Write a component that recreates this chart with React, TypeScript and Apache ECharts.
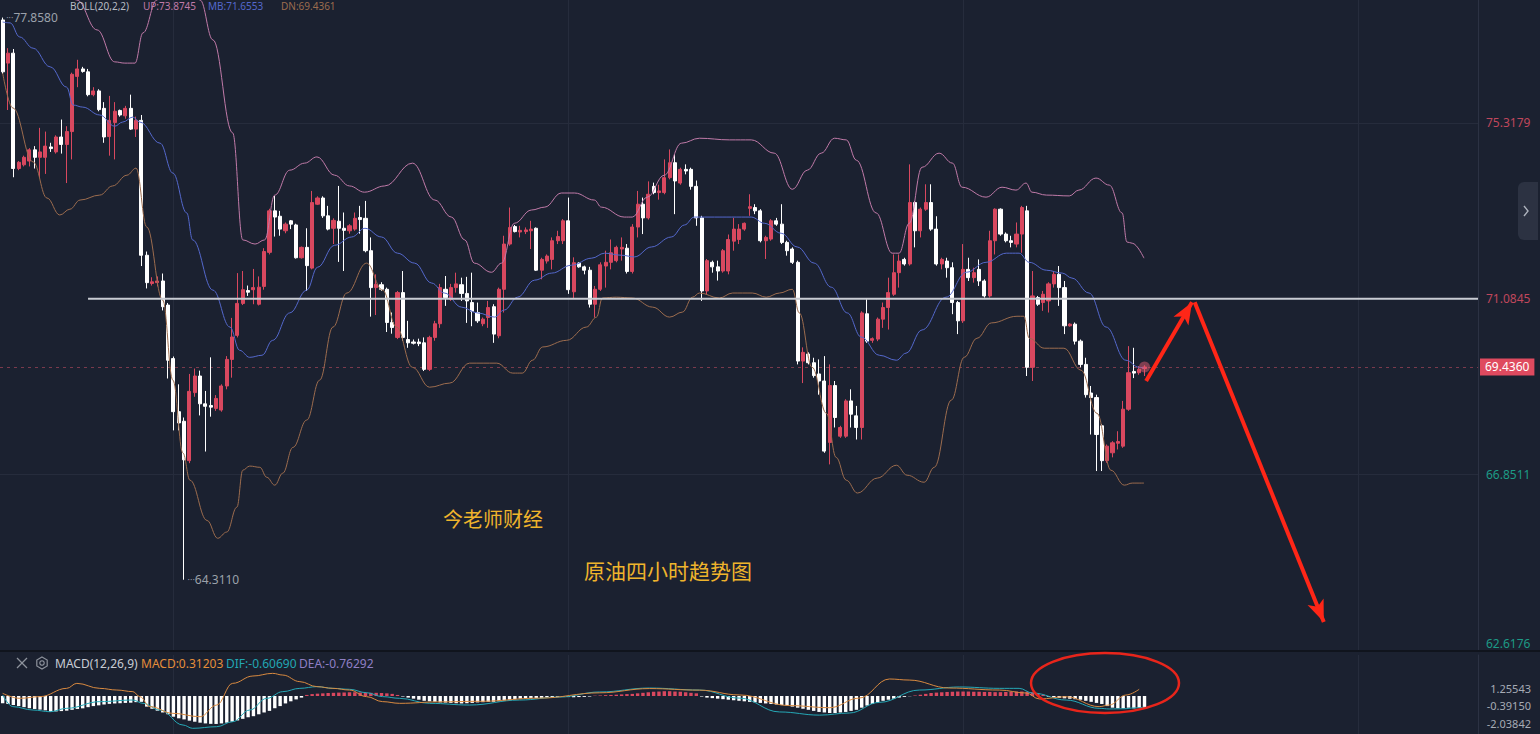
import React, { useEffect, useRef } from "react";
import * as echarts from "echarts";

// ---------- data ----------
const SLOTS = 277;
const opens = [77.80,76.76,77.00,74.22,74.31,74.40,74.67,74.49,74.49,74.74,74.62,74.98,74.80,75.11,76.44,76.62,76.55,76.00,76.09,75.67,74.99,75.33,75.62,75.49,75.67,75.17,75.38,72.13,71.45,71.47,71.51,70.93,69.64,68.36,68.13,67.18,68.82,69.22,68.55,68.51,68.44,68.40,68.98,69.62,70.20,70.97,71.28,71.30,70.95,71.38,72.20,73.20,73.07,72.72,72.96,72.86,72.07,72.32,71.82,73.36,73.51,73.08,72.78,72.95,72.78,72.72,72.76,73.04,73.02,72.24,71.35,71.42,71.31,70.51,70.15,71.23,70.10,70.04,70.04,70.02,69.38,70.15,70.48,71.31,71.07,71.35,71.42,71.21,70.99,70.75,70.48,70.63,70.89,70.19,71.31,72.40,72.82,72.69,72.70,72.72,72.78,71.77,71.99,72.03,72.48,72.48,72.96,71.25,71.94,71.85,71.77,70.95,71.31,71.87,71.96,72.00,72.28,72.30,71.74,72.81,73.36,73.03,73.79,73.64,73.64,74.00,74.36,73.87,74.20,74.20,73.79,73.03,71.27,71.96,71.85,71.75,71.75,72.47,72.51,72.76,73.26,73.28,73.20,72.48,72.52,72.96,72.88,72.44,72.28,71.96,69.58,69.75,69.54,69.27,69.10,67.62,68.99,67.77,67.77,68.62,68.26,67.98,70.72,70.08,70.11,70.59,70.87,71.19,71.71,72.03,71.92,73.40,72.72,73.24,73.40,72.76,71.92,71.99,71.83,70.99,70.55,71.79,71.59,71.79,71.51,71.15,72.48,73.24,72.64,72.48,72.40,72.64,73.20,69.43,71.11,70.99,71.03,71.44,71.67,71.35,70.43,70.47,70.06,69.50,68.81,68.70,68.02,67.18,67.37,67.60,67.53,68.42,69.33,69.30,69.40];
const closes = [76.55,77.00,74.22,74.37,74.49,74.67,74.49,74.62,74.76,74.70,74.98,74.80,75.11,76.49,76.62,76.56,76.00,76.09,75.64,74.98,75.38,75.60,75.51,75.67,75.17,75.38,72.13,71.47,71.49,71.51,70.89,69.60,68.36,68.09,67.20,68.85,69.22,68.55,68.49,68.47,68.68,68.98,69.62,70.16,70.97,71.30,71.24,71.35,71.36,72.22,73.20,73.05,72.76,72.88,72.88,72.07,72.32,71.88,73.40,73.51,73.08,72.76,72.97,72.78,72.73,72.84,73.02,72.99,72.24,71.35,71.43,71.31,70.51,70.39,71.23,70.15,70.02,70.01,70.00,69.38,70.15,70.48,71.35,71.11,71.35,71.44,71.21,71.03,70.78,70.55,70.59,70.87,70.23,71.31,72.40,72.80,72.70,72.73,72.74,72.76,71.77,72.03,72.11,72.48,72.58,72.96,71.30,71.95,71.85,71.77,70.95,71.31,71.90,71.96,72.19,72.32,72.32,71.74,72.81,73.36,73.03,73.60,73.64,73.68,74.00,74.36,73.92,74.20,74.16,73.79,73.03,71.27,72.00,71.85,71.75,72.24,72.51,72.76,72.76,72.90,73.30,73.20,72.48,72.56,72.96,72.88,72.44,72.24,71.96,69.58,69.79,69.54,69.23,69.10,67.41,68.99,68.22,67.98,68.62,68.30,67.98,70.74,70.06,70.12,70.59,70.87,71.23,71.71,71.99,71.92,73.40,72.72,73.24,73.40,72.76,71.92,72.03,71.83,70.99,70.55,71.79,71.59,71.71,71.51,71.15,72.48,73.24,72.64,72.48,72.44,72.64,73.28,69.43,71.15,70.95,71.19,71.44,71.67,71.35,70.43,70.47,70.06,69.50,68.77,68.70,67.81,67.18,67.53,67.61,67.64,68.42,69.30,69.29,69.38,69.436];
const lows = [76.50,75.63,74.01,74.18,74.27,74.27,74.22,74.00,74.09,74.62,74.58,74.58,73.87,74.44,76.18,76.53,75.96,75.96,75.60,74.84,74.53,74.44,75.47,75.42,75.15,74.98,71.87,71.33,71.40,71.38,70.80,69.16,67.91,67.91,64.311,67.12,68.72,68.27,67.40,68.24,68.38,68.36,68.90,69.18,70.15,70.93,71.15,70.95,70.92,71.30,72.15,72.58,72.60,72.66,72.76,72.05,72.05,71.27,71.79,73.34,73.03,72.73,72.40,71.97,71.75,72.65,72.72,72.65,72.20,70.65,70.69,71.27,70.28,70.24,70.11,70.07,69.90,69.98,69.94,69.34,69.34,70.07,70.38,70.91,71.03,71.23,71.03,70.50,70.42,70.50,70.42,70.38,70.02,70.13,70.75,72.36,72.68,72.56,72.64,72.28,71.75,71.55,71.93,71.79,72.40,72.40,71.20,71.10,71.83,71.67,70.87,70.63,71.27,71.35,71.79,71.96,72.00,71.69,71.69,72.56,72.64,72.99,73.60,73.47,73.60,73.96,73.12,73.83,74.08,73.71,72.84,71.03,71.19,71.71,71.52,71.71,71.67,72.24,72.40,72.72,73.08,73.12,72.44,72.04,72.48,72.84,72.40,72.12,71.92,69.50,69.05,69.50,69.18,68.77,67.37,67.09,67.98,67.73,67.73,67.98,67.69,67.69,70.02,70.02,70.06,70.38,70.34,71.15,71.35,71.88,71.88,72.32,72.56,73.20,72.72,71.88,71.79,71.59,70.71,70.23,70.50,71.51,71.47,71.39,71.11,71.11,72.15,72.60,72.44,72.32,72.32,72.19,69.22,69.10,70.91,70.79,70.75,71.35,70.91,70.23,70.41,69.98,69.43,68.70,67.81,66.93,66.93,67.13,67.26,67.45,67.49,68.38,69.17,69.25,69.22];
const highs = [77.858,77.12,77.10,74.40,74.53,74.71,74.76,75.20,75.11,74.84,75.02,75.40,75.24,76.53,76.84,76.67,76.62,76.18,76.13,75.82,75.97,75.82,75.64,75.73,76.00,75.47,75.51,72.22,71.60,71.62,71.69,70.98,69.69,69.02,68.22,69.27,69.40,69.35,68.86,69.67,68.76,69.02,69.70,70.62,71.70,71.75,71.40,71.80,71.62,72.30,73.25,73.56,73.20,72.92,72.98,72.89,72.34,72.78,73.68,73.55,73.55,73.32,73.02,73.80,73.16,72.88,73.16,73.32,73.44,72.56,71.67,71.48,71.35,70.75,71.27,71.75,70.55,70.10,70.12,70.15,70.19,70.55,71.44,71.63,71.44,71.71,71.59,71.61,71.71,70.99,70.63,71.03,70.95,71.35,72.60,73.28,72.86,72.84,72.80,72.96,72.80,72.07,72.15,72.56,72.72,73.00,73.52,72.08,71.96,71.88,71.85,71.39,71.96,72.24,72.51,72.36,72.56,72.40,72.88,73.68,73.52,73.91,73.88,73.83,74.44,74.68,74.56,74.24,74.32,74.24,73.93,73.08,72.04,72.00,72.00,72.28,72.63,73.03,72.88,72.92,73.60,73.36,73.24,72.60,73.00,73.03,73.36,72.48,72.32,72.00,69.91,69.79,69.66,69.62,69.70,69.50,69.10,68.02,68.66,68.90,68.50,70.78,71.07,70.15,70.63,70.99,71.59,72.15,72.15,72.07,74.32,73.44,73.28,73.84,73.84,73.07,72.07,72.07,71.96,71.03,72.40,72.07,71.83,72.03,71.55,72.72,73.26,73.26,72.68,72.60,72.92,73.32,73.32,71.75,71.15,71.27,71.48,71.75,71.87,71.51,70.49,70.51,70.10,69.66,68.98,68.77,68.06,67.57,67.65,67.89,68.62,69.94,69.90,69.46,69.48];

const bollUpper = [[0,80.5],[9,79.3],[13.9,78.28],[17.7,77.56],[21,76.79],[22.9,76.76],[24.8,76.76],[26.3,77.49],[28.9,78.28],[31,79.0],[34.5,79.0],[37,78.28],[39.4,77.32],[43.1,75.08],[45,72.5],[47.3,72.4],[49.1,72.5],[51,73.58],[53.8,74.18],[56.6,74.35],[58.9,74.5],[62.2,74.06],[65,73.8],[67.8,73.65],[71.6,73.8],[76.8,74.35],[81,73.46],[84.1,73.05],[86.6,72.5],[88.4,71.94],[91.6,71.72],[93.5,71.94],[95.9,72.9],[99.1,73.22],[101.6,73.29],[104.7,73.63],[107.2,73.63],[110.9,73.46],[112.2,73.29],[116.5,73.05],[118,73.05],[120.8,73.53],[124,74.06],[127.2,74.83],[130.6,74.95],[136.2,74.91],[140.3,74.91],[144.6,74.59],[148,73.72],[150.8,74.18],[153.4,74.59],[155.9,74.95],[158.1,74.91],[160,74.42],[163.7,73.15],[166.7,72.18],[168,72.18],[169.9,72.9],[172.3,74.25],[175.5,74.59],[178,74.35],[179.8,73.77],[184.3,73.53],[187.3,73.77],[189.9,73.7],[191.8,73.87],[192.9,73.65],[195.6,73.58],[199.9,73.56],[201.7,73.7],[204.9,73.99],[207.4,73.82],[209.8,73.15],[210.7,72.45],[211.7,72.42],[213.9,72.06]];
const bollMid = [[0,77.75],[1.4,77.73],[3.2,77.39],[5.7,77.12],[8.9,76.67],[12,76.18],[13.2,75.75],[15,75.7],[18.2,75.51],[21,75.24],[22.5,75.34],[24.4,75.46],[25.7,75.34],[29.5,74.83],[31.9,74.11],[34.5,73.15],[35.6,72.5],[39.4,71.29],[42.6,70.4],[44.4,69.84],[46.3,69.67],[48.6,69.72],[50.6,70.08],[53.8,70.74],[57,71.29],[59,71.84],[62.2,72.37],[65.4,72.57],[67.9,72.78],[71,72.57],[74,72.18],[77.2,71.94],[80.4,71.46],[82.8,71.22],[86,70.88],[89,70.74],[92.2,70.64],[94,70.81],[96.5,71.12],[99.7,71.53],[102.9,71.7],[106.6,71.89],[110.4,72.06],[112.8,72.18],[116,72.13],[118.4,72.09],[121.6,72.33],[125.3,72.57],[127.8,72.86],[129.6,73.05],[133.4,73.05],[136.6,73.05],[140.3,73.05],[142.8,72.9],[145.9,72.66],[148.9,72.33],[152.1,71.94],[155.3,71.36],[158.3,70.74],[160.9,70.16],[164.3,69.72],[167.5,69.6],[169.3,69.77],[172.3,70.33],[176.8,71.12],[180.6,71.72],[184.3,71.96],[188.1,72.18],[190.5,72.18],[192.4,71.96],[195.6,71.77],[198.6,71.7],[200.4,71.58],[203.6,71.22],[206.8,70.4],[210.5,69.6],[213,69.43],[213.9,69.41]];
const bollLower = [[0,76.52],[1.9,75.68],[5.7,74.38],[8.3,73.51],[10.7,73.1],[12.6,73.24],[14.5,73.46],[18.2,73.58],[20.6,73.8],[23.3,74.06],[25,74.23],[27,72.81],[30,71.05],[31.9,69.12],[33.8,67.36],[35.1,66.71],[38.3,65.74],[40.3,65.31],[42,65.46],[43.9,66.06],[45,66.95],[46.3,67.05],[48.2,67.02],[49.5,66.78],[51,66.59],[52.5,66.88],[54.4,67.5],[57,68.16],[59.4,69.12],[61.9,70.4],[64.5,71.22],[68.2,71.94],[71.2,71.29],[73.8,70.4],[76.8,69.43],[80,68.95],[83.8,69.05],[87.5,69.53],[92.6,69.53],[95.6,69.29],[97.4,69.29],[99.3,69.6],[101.2,69.92],[105.7,70.08],[109.4,70.4],[111.3,70.64],[112.4,71.1],[115,71.12],[118,71.1],[121.8,70.88],[125,70.64],[127.4,70.76],[129.3,71.12],[130.6,71.22],[134.3,71.1],[136.8,71.22],[140.5,71.22],[143.1,71.12],[145.6,71.22],[148,71.31],[149.3,70.74],[151.7,69.43],[154.4,68.32],[156.2,67.26],[158.1,66.71],[160.2,66.4],[163.9,66.76],[167.5,67.07],[169.5,66.83],[172.7,66.66],[174.6,67.02],[177.8,68.64],[180.2,69.67],[182.6,70.13],[185.3,70.5],[190.1,70.66],[191.4,70.66],[192.4,70.13],[195.2,69.89],[198.9,69.89],[202.1,69.36],[205.1,68.32],[207.7,66.95],[210.2,66.59],[211.7,66.64],[213.9,66.64]];

const macdHist = [-0.69,-0.75,-0.85,-0.95,-1.05,-1.15,-1.22,-1.28,-1.35,-1.48,-1.45,-1.42,-1.38,-1.30,-1.22,-1.16,-1.05,-0.95,-0.88,-0.80,-0.74,-0.70,-0.68,-0.65,-0.63,-0.58,-0.55,-1.00,-1.20,-1.38,-1.55,-1.72,-1.95,-2.10,-2.20,-2.32,-2.42,-2.51,-2.58,-2.62,-2.63,-2.58,-2.51,-2.42,-2.30,-2.15,-2.00,-1.90,-1.72,-1.55,-1.40,-1.15,-0.95,-0.70,-0.50,-0.32,-0.15,0.10,0.18,0.22,0.25,0.28,0.30,0.32,0.33,0.35,0.35,0.33,0.32,0.30,0.30,0.28,0.25,0.20,0.10,-0.05,-0.15,-0.25,-0.35,-0.45,-0.50,-0.55,-0.60,-0.62,-0.65,-0.68,-0.70,-0.68,-0.65,-0.60,-0.58,-0.55,-0.55,-0.50,-0.42,-0.35,-0.30,-0.25,-0.22,-0.20,-0.20,-0.18,-0.15,-0.12,-0.08,-0.05,-0.10,-0.12,-0.10,-0.08,-0.05,0.03,0.05,0.08,0.10,0.12,0.15,0.18,0.20,0.25,0.30,0.35,0.40,0.42,0.45,0.45,0.42,0.40,0.35,0.30,0.25,-0.05,-0.15,-0.20,-0.25,-0.30,-0.35,-0.40,-0.45,-0.50,-0.55,-0.60,-0.65,-0.70,-0.75,-0.80,-0.85,-0.90,-1.00,-1.10,-1.20,-1.30,-1.40,-1.50,-1.55,-1.60,-1.60,-1.55,-1.50,-1.40,-1.30,-1.10,-0.90,-0.75,-0.60,-0.45,-0.35,-0.25,-0.15,-0.08,-0.02,0.05,0.12,0.20,0.28,0.32,0.35,0.38,0.40,0.42,0.42,0.42,0.40,0.40,0.38,0.38,0.36,0.36,0.38,0.40,0.42,0.42,0.40,0.35,0.25,0.12,-0.07,-0.12,-0.18,-0.22,-0.26,-0.30,-0.35,-0.45,-0.55,-0.65,-0.75,-0.95,-1.10,-1.16,-1.16,-1.10,-1.16,-1.12,-1.16];
const difLine = [[0,0.09],[1.9,-1.0],[5.7,-1.32],[8.9,-1.48],[12,-1.16],[18.2,-0.53],[24.4,-0.38],[26.3,-0.69],[29.5,-1.32],[33.8,-2.73],[35.6,-3.04],[40.1,-2.89],[43.1,-2.42],[46.3,-1.32],[49.5,-0.22],[52.5,0.41],[55.7,0.72],[58.9,0.88],[61.9,0.72],[65,0.63],[68.2,0.31],[71.2,-0.06],[74.4,-0.22],[80,-0.69],[87.5,-0.85],[96.9,-0.38],[104.4,-0.1],[111.9,0.38],[121.2,0.75],[130.6,0.56],[138.1,-0.2],[145.6,-1.5],[153.1,-1.8],[158.7,-1.6],[164.3,-0.6],[171.8,0.56],[179.3,0.85],[186.8,0.72],[190.5,0.72],[193,0.28],[199.3,-0.38],[205.5,-1.16],[207.4,-1.22],[210.2,-1.2],[212,-1.12],[214,-1.05]];
const deaLine = [[0,0.25],[3.2,-0.22],[7,-0.06],[12,0.72],[13.9,1.19],[18.2,0.72],[21.4,0.56],[24.4,0.41],[25.7,-0.06],[27.6,-1.0],[31.9,-1.63],[37,-1.95],[40.1,-0.85],[43.1,1.19],[46.9,1.88],[50.6,2.13],[52.5,1.97],[55.7,1.35],[58.9,0.88],[61.9,0.72],[65,0.56],[68.2,-0.06],[71.2,-0.53],[74.4,-0.69],[81.9,-0.55],[89.4,-0.5],[100.6,-0.2],[111.9,0.3],[121.2,0.7],[130.6,0.55],[138.1,0.1],[147.4,-0.9],[155,-1.1],[160.5,-0.2],[166.2,1.6],[169.9,1.5],[177.4,0.75],[186.8,0.56],[191.8,0.28],[194.3,-0.28],[199.3,-0.07],[205.5,-1.0],[207.4,-0.85],[210.5,0.09],[213,0.63]];

const priceTicks = [62.6176, 66.8511, 71.0845, 75.3179];
const macdTicks = [1.25543, -0.3915, -2.03842];
const lastPrice = 69.436;
const levelPrice = 71.0845;
const levelStartIdx = 16;
const vGridIdx = [32, 106, 180, 254];
const arrowUp = [[214.3, 69.1], [222.9, 71.0]];
const arrowDown = [[223.4, 71.0], [247.6, 63.29]];

const RED = "#d9485f";
const WHITE = "#ffffff";
const BG = "#1b2130";
const GRIDC = "#262c3c";
const FONT = "Noto Sans, DejaVu Sans, sans-serif";

function txt(x: number, y: number, text: string, fill: string, size: number, extra: any = {}) {
  return {
    type: "text", x, y, z: 50,
    style: {
      text, fill, font: `${size}px ${extra.family || FONT}`,
      align: extra.align || "left", textAlign: extra.align || "left",
      verticalAlign: "middle", textVerticalAlign: "middle",
    },
  };
}

export default function App() {
  const ref = useRef<HTMLDivElement>(null);
  useEffect(() => {
    document.body.style.margin = "0";
    const chart = echarts.init(ref.current!, null, { renderer: "svg" });
    const cats = Array.from({ length: SLOTS }, (_, i) => String(i));
    const candleData = opens.map((o, i) => [o, closes[i], lows[i], highs[i]]);

    const option: any = {
      animation: false,
      backgroundColor: BG,
      grid: [
        { left: 0, right: 62, top: 0, height: 650 },
        { left: 0, right: 62, top: 655, height: 79 },
      ],
      xAxis: [
        { type: "category", gridIndex: 0, data: cats, show: false },
        { type: "value", gridIndex: 0, min: -0.5, max: SLOTS - 0.5, show: false },
        { type: "category", gridIndex: 1, data: cats, show: false },
        { type: "value", gridIndex: 1, min: -0.5, max: SLOTS - 0.5, show: false },
      ],
      yAxis: [
        {
          type: "value", gridIndex: 0, position: "right", min: 62.6176, max: 78.281,
          axisLine: { show: true, onZero: false, lineStyle: { color: "#2c3243" } },
          axisTick: { show: false, customValues: priceTicks },
          splitLine: { show: false },
          axisLabel: {
            customValues: priceTicks, margin: 8, fontSize: 12, fontFamily: FONT,
            formatter: (v: number) => {
              const t = v.toFixed(4);
              if (v < 63) return `{b|${t}}`;
              return v > 70 ? `{r|${t}}` : `{g|${t}}`;
            },
            rich: {
              r: { color: "#c0475c", fontSize: 12, fontFamily: FONT },
              g: { color: "#1d9a86", fontSize: 12, fontFamily: FONT },
              b: { color: "#1d9a86", fontSize: 12, fontFamily: FONT, padding: [0, 0, 14, 0] },
            },
          },
        },
        {
          type: "value", gridIndex: 1, position: "right", min: -3.575, max: 3.857,
          axisLine: { show: true, onZero: false, lineStyle: { color: "#2c3243" } },
          axisTick: { show: false, customValues: macdTicks },
          splitLine: { show: false },
          axisLabel: {
            customValues: macdTicks, margin: 53, align: "right", verticalAlign: "top",
            color: "#a6abb5", fontSize: 11, fontFamily: FONT,
            formatter: (v: number) => v.toFixed(5),
          },
        },
      ],
      series: [
        {
          name: "grid", type: "line", xAxisIndex: 1, yAxisIndex: 0, data: [[0, 70]],
          symbol: "none", lineStyle: { opacity: 0 }, silent: true,
          markLine: {
            silent: true, symbol: "none", z: 1, label: { show: false },
            lineStyle: { color: GRIDC, width: 1, type: "solid" },
            data: [{ yAxis: 75.3179 }, { yAxis: 66.8511 }, ...vGridIdx.map((x) => ({ xAxis: x }))],
          },
        },
        {
          name: "K", type: "candlestick", xAxisIndex: 0, yAxisIndex: 0, data: candleData,
          barWidth: 3.6, z: 3,
          itemStyle: { color: RED, color0: WHITE, borderColor: RED, borderColor0: WHITE, borderWidth: 1 },
          markLine: {
            silent: true, symbol: "none", z: 2,
            data: [{
              yAxis: lastPrice,
              lineStyle: { color: "#7a3a4c", width: 1, type: [3, 4] },
              label: {
                show: true, position: "end", distance: 2, formatter: "69.4360",
                color: "#ffffff", backgroundColor: "#df4a5f", padding: [3, 5, 2, 5],
                fontSize: 12, fontFamily: FONT,
              },
            }],
          },
          markPoint: {
            silent: true, symbol: "circle", symbolSize: 1, itemStyle: { color: "rgba(0,0,0,0)" },
            label: {
              show: true, position: "right", distance: 3,
              rich: {
                d: { color: "#8a909b", fontSize: 9, fontFamily: FONT },
                t: { color: "#9ba1ab", fontSize: 12, fontFamily: FONT },
              },
            },
            data: [
              { coord: ["0", 77.858], label: { formatter: "{d|···}{t|77.8580}" } },
              { coord: ["34", 64.311], label: { formatter: "{d|···}{t|64.3110}" } },
            ],
          },
        },
        {
          name: "UP", type: "line", xAxisIndex: 1, yAxisIndex: 0, data: bollUpper, smooth: 0.4,
          smoothMonotone: "x", symbol: "none", z: 4, lineStyle: { color: "#c07aa8", width: 1 },
        },
        {
          name: "MB", type: "line", xAxisIndex: 1, yAxisIndex: 0, data: bollMid, smooth: 0.4,
          smoothMonotone: "x", symbol: "none", z: 4, lineStyle: { color: "#5468cc", width: 1 },
        },
        {
          name: "DN", type: "line", xAxisIndex: 1, yAxisIndex: 0, data: bollLower, smooth: 0.4,
          smoothMonotone: "x", symbol: "none", z: 4, lineStyle: { color: "#9c6c4e", width: 1 },
        },
        {
          name: "level", type: "line", xAxisIndex: 1, yAxisIndex: 0,
          data: [[levelStartIdx, levelPrice], [SLOTS - 0.5, levelPrice]],
          symbol: "none", z: 5, lineStyle: { color: "#c9ccd3", width: 2 },
        },
        {
          name: "arrows", type: "line", xAxisIndex: 1, yAxisIndex: 0, data: [arrowUp[0]],
          symbol: "none", lineStyle: { opacity: 0 }, z: 10,
          markLine: {
            silent: true, z: 10, symbol: ["none", "arrow"], symbolSize: [13, 22],
            label: { show: false },
            lineStyle: { color: "#ff2617", width: 4, type: "solid" },
            data: [
              [{ coord: arrowUp[0] }, { coord: arrowUp[1] }],
              [{ coord: arrowDown[0] }, { coord: arrowDown[1] }],
            ],
          },
        },
        {
          name: "pulse", type: "scatter", xAxisIndex: 1, yAxisIndex: 0, data: [[214, lastPrice]],
          symbolSize: 11, z: 6, itemStyle: { color: "rgba(236,96,118,0.6)" },
        },
        {
          name: "macdGrid", type: "line", xAxisIndex: 3, yAxisIndex: 1, data: [[0, 0]],
          symbol: "none", lineStyle: { opacity: 0 }, silent: true,
          markLine: {
            silent: true, symbol: "none", z: 1, label: { show: false },
            lineStyle: { color: GRIDC, width: 1, type: "solid" },
            data: vGridIdx.map((x) => ({ xAxis: x })),
          },
        },
        {
          name: "MACD", type: "bar", xAxisIndex: 2, yAxisIndex: 1, barWidth: 3.4, z: 3,
          data: macdHist.map((v) => ({ value: v, itemStyle: { color: v >= 0 ? RED : WHITE } })),
        },
        {
          name: "DIF", type: "line", xAxisIndex: 3, yAxisIndex: 1, data: difLine, smooth: 0.4,
          smoothMonotone: "x", symbol: "none", z: 4, lineStyle: { color: "#26a8b6", width: 1 },
        },
        {
          name: "DEA", type: "line", xAxisIndex: 3, yAxisIndex: 1, data: deaLine, smooth: 0.4,
          smoothMonotone: "x", symbol: "none", z: 4, lineStyle: { color: "#d98a40", width: 1 },
        },
      ],
      graphic: [
        { type: "rect", shape: { x: 0, y: 650, width: 1540, height: 2 }, style: { fill: "#10141d" }, z: 50 },
        // header of the main pane (kept inside the page)
        txt(70, 6, "BOLL(20,2,2)", "#b8bcc4", 10),
        txt(143, 6, "UP:73.8745", "#c07aa8", 10),
        txt(208, 6, "MB:71.6553", "#5468cc", 10),
        txt(281, 6, "DN:69.4361", "#9c6c4e", 10),
        // MACD header
        { type: "line", shape: { x1: 17, y1: 658, x2: 27, y2: 668 }, style: { stroke: "#8d929c", lineWidth: 1.3 }, z: 50 },
        { type: "line", shape: { x1: 17, y1: 668, x2: 27, y2: 658 }, style: { stroke: "#8d929c", lineWidth: 1.3 }, z: 50 },
        { type: "polygon", shape: { points: [[42, 657], [47.2, 660], [47.2, 666], [42, 669], [36.8, 666], [36.8, 660]] }, style: { fill: "none", stroke: "#8d929c", lineWidth: 1.2 }, z: 50 },
        { type: "circle", shape: { cx: 42, cy: 663, r: 2.2 }, style: { fill: "none", stroke: "#8d929c", lineWidth: 1.2 }, z: 50 },
        txt(55, 663, "MACD(12,26,9)", "#c8ccd4", 12),
        txt(141, 663, "MACD:0.31203", "#e58e3a", 12),
        txt(226, 663, "DIF:-0.60690", "#22a6b3", 12),
        txt(299, 663, "DEA:-0.76292", "#8f7fc4", 12),
        // annotations
        txt(493, 518, "今老师财经", "#efb42c", 20, { align: "center", family: '"Noto Sans CJK SC", sans-serif' }),
        txt(668, 570, "原油四小时趋势图", "#efb42c", 21, { align: "center", family: '"Noto Sans CJK SC", sans-serif' }),
        { type: "ellipse", shape: { cx: 1105, cy: 683, rx: 74, ry: 30 }, style: { fill: "none", stroke: "#e8251b", lineWidth: 2.5 }, z: 60 },
        // collapsed side panel tab
        { type: "rect", shape: { x: 1518, y: 182, width: 20, height: 58, r: [6, 0, 0, 6] }, style: { fill: "#2c3242" }, z: 50 },
        { type: "polyline", shape: { points: [[1524, 206], [1528, 211], [1524, 216]] }, style: { fill: "none", stroke: "#aeb3bd", lineWidth: 1.4 }, z: 51 },
      ],
    };
    chart.setOption(option);
    return () => chart.dispose();
  }, []);
  return <div ref={ref} style={{ position: "fixed", left: 0, top: 0, width: 1540, height: 734 }} />;
}
